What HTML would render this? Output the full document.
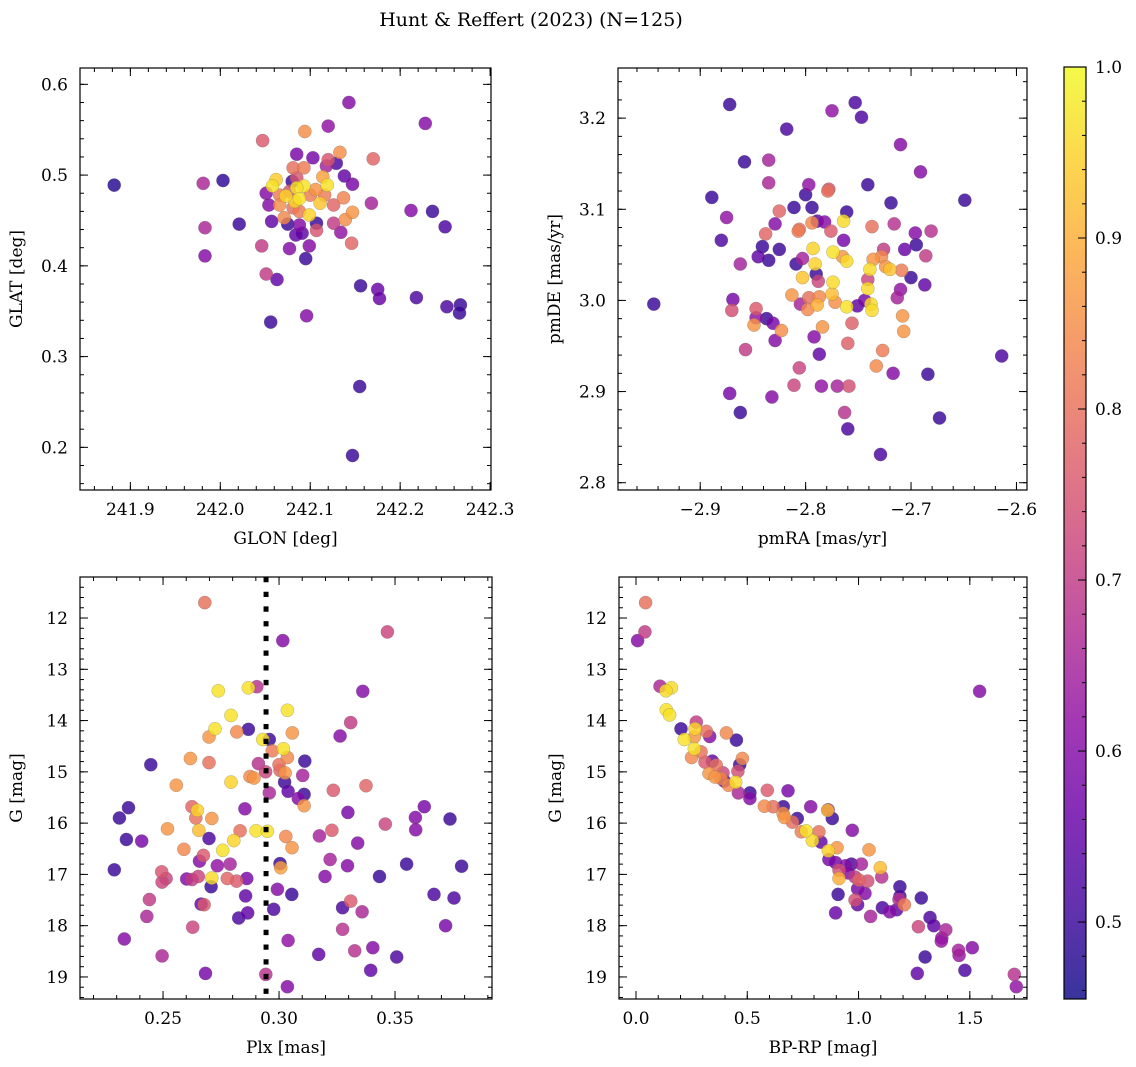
<!DOCTYPE html>
<html><head><meta charset="utf-8"><title>Hunt & Reffert (2023)</title>
<style>
html,body{margin:0;padding:0;background:#fff;}
svg{display:block;font-family:"DejaVu Serif","Liberation Serif",serif;}
</style></head>
<body>
<svg id="fig" width="1136" height="1067" viewBox="0 0 1136 1067" xmlns="http://www.w3.org/2000/svg">
<defs>
<linearGradient id="plasmaGrad" x1="0" y1="1" x2="0" y2="0"></linearGradient>
</defs>
<text x="531" y="26" font-size="19" text-anchor="middle">Hunt &amp; Reffert (2023) (N=125)</text>
</svg>
<script>
// ---------- data ----------
const p1X=[241.882,241.981,242.003,241.983,241.983,242.021,242.047,242.094,242.120,242.143,242.228,242.085,242.103,242.120,242.133,242.129,242.170,242.118,242.138,242.147,242.168,242.212,242.236,242.250,242.046,242.077,242.099,242.095,242.051,242.063,242.156,242.175,242.177,242.218,242.252,242.267,242.266,242.096,242.056,242.155,242.147,242.062,242.058,242.051,242.054,242.057,242.071,242.075,242.084,242.088,242.091,242.107,242.107,242.126,242.134,242.146,242.139,242.147,242.126,242.137,242.111,242.099,242.119,242.114,242.106,242.093,242.085,242.088,242.083,242.073,242.081,242.093,242.080,242.066,242.081,242.088,242.077,242.100,242.116,242.066,242.085];
const p1Y=[0.489,0.491,0.494,0.442,0.411,0.446,0.538,0.548,0.554,0.580,0.557,0.523,0.519,0.517,0.525,0.513,0.518,0.510,0.499,0.490,0.469,0.461,0.460,0.443,0.422,0.419,0.422,0.408,0.391,0.385,0.378,0.374,0.364,0.365,0.355,0.357,0.348,0.345,0.338,0.267,0.191,0.495,0.488,0.480,0.467,0.449,0.453,0.446,0.434,0.445,0.436,0.447,0.439,0.447,0.437,0.425,0.451,0.459,0.467,0.475,0.469,0.456,0.489,0.498,0.484,0.488,0.486,0.474,0.471,0.477,0.508,0.508,0.493,0.467,0.464,0.460,0.482,0.478,0.478,0.478,0.497];
const p1C=[0.48,0.66,0.49,0.66,0.60,0.50,0.76,0.85,0.62,0.60,0.60,0.58,0.58,0.75,0.85,0.52,0.78,0.65,0.55,0.58,0.65,0.60,0.50,0.52,0.70,0.60,0.60,0.50,0.70,0.55,0.50,0.56,0.56,0.52,0.52,0.50,0.50,0.60,0.50,0.50,0.50,0.94,0.97,0.60,0.60,0.55,0.84,0.50,0.55,0.60,0.55,0.50,0.75,0.70,0.62,0.78,0.85,0.86,0.78,0.83,0.93,0.95,0.97,0.88,0.86,0.97,0.97,0.97,0.95,0.95,0.80,0.82,0.50,0.85,0.80,0.82,0.75,0.82,0.82,0.82,0.75];

const p2X=[-2.872,-2.753,-2.775,-2.747,-2.818,-2.710,-2.858,-2.835,-2.691,-2.835,-2.797,-2.778,-2.779,-2.741,-2.889,-2.800,-2.649,-2.719,-2.811,-2.794,-2.761,-2.825,-2.875,-2.829,-2.789,-2.782,-2.764,-2.794,-2.806,-2.807,-2.776,-2.737,-2.716,-2.696,-2.681,-2.838,-2.880,-2.764,-2.695,-2.841,-2.825,-2.793,-2.774,-2.765,-2.761,-2.726,-2.706,-2.686,-2.845,-2.862,-2.835,-2.809,-2.803,-2.791,-2.736,-2.728,-2.724,-2.720,-2.709,-2.700,-2.790,-2.803,-2.788,-2.741,-2.739,-2.774,-2.741,-2.710,-2.713,-2.687,-2.775,-2.813,-2.797,-2.787,-2.772,-2.805,-2.789,-2.798,-2.761,-2.751,-2.744,-2.738,-2.737,-2.944,-2.869,-2.870,-2.847,-2.847,-2.837,-2.831,-2.849,-2.823,-2.829,-2.784,-2.756,-2.708,-2.707,-2.792,-2.760,-2.857,-2.787,-2.727,-2.733,-2.806,-2.717,-2.684,-2.614,-2.811,-2.785,-2.770,-2.759,-2.872,-2.832,-2.862,-2.763,-2.673,-2.760,-2.729];
const p2Y=[3.215,3.217,3.208,3.201,3.188,3.171,3.152,3.154,3.141,3.129,3.127,3.122,3.120,3.127,3.113,3.116,3.110,3.107,3.102,3.102,3.097,3.098,3.091,3.084,3.087,3.086,3.087,3.085,3.078,3.076,3.076,3.081,3.084,3.074,3.076,3.073,3.066,3.066,3.061,3.059,3.056,3.057,3.053,3.048,3.043,3.056,3.056,3.049,3.048,3.040,3.044,3.040,3.046,3.040,3.045,3.048,3.037,3.034,3.033,3.025,3.029,3.025,3.021,3.023,3.034,3.020,3.013,3.012,3.003,3.017,3.007,3.006,3.003,3.004,2.998,2.996,2.995,2.990,2.993,2.994,3.000,2.996,2.989,2.996,3.001,2.989,2.991,2.981,2.980,2.975,2.973,2.967,2.956,2.971,2.975,2.983,2.966,2.960,2.953,2.946,2.941,2.945,2.928,2.926,2.920,2.919,2.939,2.907,2.906,2.906,2.906,2.898,2.894,2.877,2.877,2.871,2.859,2.831];
const p2C=[0.50,0.52,0.62,0.52,0.52,0.60,0.50,0.65,0.60,0.66,0.62,0.75,0.80,0.50,0.50,0.50,0.50,0.50,0.50,0.50,0.50,0.78,0.62,0.60,0.55,0.60,0.96,0.84,0.80,0.82,0.76,0.80,0.68,0.60,0.68,0.78,0.52,0.58,0.50,0.50,0.50,0.95,0.97,0.86,0.96,0.70,0.56,0.70,0.55,0.65,0.50,0.50,0.65,0.95,0.86,0.84,0.86,0.93,0.82,0.50,0.50,0.93,0.72,0.72,0.96,0.96,0.96,0.62,0.65,0.55,0.92,0.86,0.80,0.84,0.85,0.65,0.90,0.84,0.97,0.55,0.58,0.96,0.96,0.50,0.58,0.74,0.76,0.62,0.50,0.58,0.86,0.85,0.60,0.86,0.77,0.86,0.86,0.60,0.77,0.70,0.55,0.82,0.84,0.72,0.60,0.50,0.52,0.72,0.62,0.65,0.74,0.58,0.60,0.50,0.68,0.50,0.52,0.52];

const p3X=[0.268,0.3467,0.3016,0.3361,0.2738,0.2868,0.2904,0.3036,0.2793,0.2724,0.2818,0.2868,0.2698,0.3057,0.3309,0.3263,0.2930,0.2958,0.3019,0.2971,0.3036,0.2618,0.2698,0.2447,0.3111,0.2911,0.3000,0.3004,0.2942,0.3026,0.3102,0.2557,0.2793,0.2875,0.2892,0.3024,0.2958,0.3039,0.3108,0.3083,0.3108,0.3234,0.3375,0.2351,0.2312,0.2625,0.2648,0.2641,0.2710,0.2853,0.3297,0.3626,0.3588,0.3737,0.2519,0.2654,0.2832,0.2901,0.2950,0.3458,0.3589,0.3174,0.3228,0.3029,0.2342,0.2408,0.2698,0.2805,0.2590,0.2757,0.3056,0.3339,0.2674,0.2657,0.2734,0.2789,0.3004,0.3007,0.3220,0.3295,0.3550,0.3787,0.2290,0.2494,0.2513,0.2496,0.2602,0.2625,0.2652,0.2710,0.2707,0.2777,0.2817,0.2861,0.3198,0.3433,0.2993,0.3055,0.2856,0.2441,0.2664,0.2677,0.2865,0.2826,0.2977,0.3274,0.3309,0.3358,0.3668,0.3754,0.2430,0.2628,0.3718,0.2333,0.3039,0.3274,0.2496,0.3171,0.3326,0.3404,0.3507,0.2683,0.2943,0.3395,0.3036];
const p3Y=[11.70,12.27,12.44,13.43,13.42,13.36,13.34,13.80,13.90,14.16,14.22,14.17,14.32,14.24,14.04,14.30,14.37,14.37,14.55,14.59,14.72,14.74,14.82,14.86,14.79,14.84,14.86,14.97,15.00,15.02,15.07,15.26,15.20,15.09,15.12,15.20,15.41,15.38,15.44,15.52,15.66,15.36,15.27,15.70,15.90,15.68,15.75,15.90,15.91,15.72,15.79,15.68,15.89,15.92,16.11,16.14,16.15,16.15,16.16,16.02,16.13,16.25,16.14,16.26,16.32,16.35,16.30,16.34,16.51,16.53,16.48,16.39,16.63,16.74,16.83,16.80,16.79,16.87,16.71,16.83,16.80,16.84,16.91,16.95,17.08,17.15,17.09,17.10,17.04,17.07,17.24,17.08,17.13,17.08,17.04,17.04,17.29,17.39,17.42,17.49,17.58,17.59,17.75,17.85,17.68,17.65,17.52,17.73,17.39,17.46,17.82,18.03,18.00,18.26,18.29,18.07,18.59,18.56,18.49,18.43,18.61,18.93,18.95,18.87,19.19];
const p3C=[0.80,0.72,0.60,0.60,0.97,0.97,0.68,0.97,0.97,0.97,0.84,0.50,0.86,0.86,0.70,0.60,0.97,0.50,0.97,0.82,0.84,0.86,0.80,0.50,0.50,0.68,0.80,0.78,0.72,0.86,0.65,0.86,0.95,0.84,0.86,0.50,0.66,0.55,0.50,0.60,0.86,0.76,0.78,0.50,0.50,0.78,0.95,0.80,0.86,0.60,0.58,0.58,0.60,0.50,0.86,0.92,0.80,0.97,0.97,0.72,0.60,0.65,0.76,0.84,0.50,0.58,0.52,0.95,0.84,0.97,0.86,0.60,0.76,0.60,0.62,0.65,0.50,0.88,0.65,0.60,0.50,0.50,0.50,0.75,0.72,0.72,0.60,0.70,0.72,0.96,0.50,0.78,0.76,0.58,0.60,0.50,0.60,0.50,0.55,0.70,0.55,0.76,0.55,0.52,0.52,0.52,0.76,0.66,0.52,0.52,0.66,0.72,0.58,0.60,0.62,0.68,0.66,0.55,0.68,0.60,0.52,0.58,0.68,0.55,0.60];
const plxRef=[0.2944];

const p4X=[0.043,0.040,0.007,1.544,0.108,0.159,0.135,0.136,0.151,0.202,0.271,0.265,0.316,0.331,0.217,0.262,0.406,0.451,0.262,0.292,0.250,0.478,0.466,0.310,0.343,0.361,0.391,0.458,0.328,0.355,0.382,0.397,0.415,0.448,0.460,0.512,0.512,0.590,0.683,0.577,0.616,0.662,0.661,0.667,0.703,0.725,0.785,0.863,0.861,0.882,0.972,0.743,0.765,0.822,0.792,0.831,0.864,0.903,1.047,0.867,0.897,0.942,0.968,1.013,0.912,0.954,0.912,0.984,1.002,1.041,1.098,1.104,0.996,1.029,0.984,0.996,0.908,1.186,1.186,1.182,1.206,1.282,0.897,1.054,1.107,1.140,1.171,1.321,1.338,1.269,1.392,1.374,1.372,1.449,1.452,1.511,1.299,1.264,1.478,1.700,1.709];
const p4Y=[11.70,12.27,12.44,13.43,13.33,13.36,13.42,13.79,13.89,14.16,14.03,14.16,14.21,14.31,14.37,14.32,14.24,14.38,14.55,14.61,14.72,14.74,14.86,14.81,14.79,14.87,15.02,14.99,15.03,15.10,15.13,15.18,15.26,15.20,15.41,15.41,15.52,15.36,15.37,15.67,15.68,15.68,15.81,15.89,15.98,15.91,15.68,15.74,15.75,15.91,16.14,16.17,16.15,16.17,16.34,16.37,16.54,16.48,16.52,16.71,16.77,16.83,16.80,16.80,16.92,16.97,17.08,17.05,17.11,17.13,16.87,17.05,17.28,17.37,17.50,17.59,17.39,17.24,17.43,17.49,17.59,17.46,17.75,17.82,17.65,17.73,17.69,17.84,18.00,18.02,18.08,18.24,18.30,18.48,18.58,18.43,18.61,18.93,18.87,18.95,19.19];
const p4C=[0.80,0.70,0.60,0.60,0.66,0.96,0.96,0.97,0.97,0.50,0.70,0.95,0.80,0.60,0.97,0.86,0.84,0.50,0.97,0.80,0.84,0.84,0.50,0.76,0.55,0.80,0.72,0.74,0.86,0.86,0.84,0.55,0.84,0.96,0.66,0.50,0.60,0.76,0.58,0.84,0.80,0.50,0.85,0.86,0.80,0.50,0.60,0.60,0.92,0.50,0.60,0.82,0.97,0.80,0.96,0.55,0.95,0.86,0.86,0.58,0.58,0.60,0.52,0.65,0.74,0.60,0.90,0.70,0.78,0.74,0.92,0.68,0.58,0.60,0.74,0.55,0.50,0.50,0.52,0.68,0.82,0.50,0.56,0.65,0.52,0.60,0.55,0.52,0.55,0.72,0.66,0.62,0.63,0.65,0.63,0.60,0.50,0.55,0.52,0.68,0.62];

// tick labels
const p1XTicks=[241.9,242.0,242.1,242.2,242.3];
const p1XTickLabels=["241.9","242.0","242.1","242.2","242.3"];
const p1YTicks=[0.2,0.3,0.4,0.5,0.6];
const p1YTickLabels=["0.2","0.3","0.4","0.5","0.6"];
const p2XTicks=[-2.9,-2.8,-2.7,-2.6];
const p2XTickLabels=["\u22122.9","\u22122.8","\u22122.7","\u22122.6"];
const p2YTicks=[2.8,2.9,3.0,3.1,3.2];
const p2YTickLabels=["2.8","2.9","3.0","3.1","3.2"];
const p3XTicks=[0.25,0.30,0.35];
const p3XTickLabels=["0.25","0.30","0.35"];
const magTicks=[12,13,14,15,16,17,18,19];
const magTickLabels=["12","13","14","15","16","17","18","19"];
const p4XTicks=[0.0,0.5,1.0,1.5];
const p4XTickLabels=["0.0","0.5","1.0","1.5"];
const cbTicks=[0.5,0.6,0.7,0.8,0.9,1.0];
const cbTickLabels=["0.5","0.6","0.7","0.8","0.9","1.0"];
const cRange=[0.455,1.0];

// ---------- rendering ----------
const NS='http://www.w3.org/2000/svg';
const svg=document.getElementById('fig');
const FS=17;
function mk(tag,attrs,parent){const e=document.createElementNS(NS,tag);for(const k in attrs)e.setAttribute(k,attrs[k]);(parent||svg).appendChild(e);return e;}

const plasmaStops=[[13,8,135],[65,4,157],[106,0,168],[143,13,164],[177,42,144],[204,71,120],[225,100,98],[242,132,75],[252,166,54],[252,206,37],[240,249,33]];
function plasma(t){t=Math.max(0,Math.min(1,t));const s=t*10;const i=Math.min(9,Math.floor(s));const f=s-i;const a=plasmaStops[i],b=plasmaStops[i+1];
 return 'rgb('+a.map((v,k)=>Math.round(v+(b[k]-v)*f)).join(',')+')';}
function cnorm(c){return (c-cRange[0])/(cRange[1]-cRange[0]);}

const panels=[
 {id:'glon-glat',px0:80,px1:491,py0:68,py1:490,xa:241.844,xb:242.301,yt:0.618,yb:0.153,X:p1X,Y:p1Y,C:p1C,xt:p1XTicks,xl:p1XTickLabels,yt_:p1YTicks,yl:p1YTickLabels,xminor:0.02,yminor:0.02,xlab:'GLON [deg]',ylab:'GLAT [deg]'},
 {id:'pmra-pmde',px0:618,px1:1027,py0:68,py1:490,xa:-2.978,xb:-2.590,yt:3.255,yb:2.792,X:p2X,Y:p2Y,C:p2C,xt:p2XTicks,xl:p2XTickLabels,yt_:p2YTicks,yl:p2YTickLabels,xminor:0.02,yminor:0.02,xlab:'pmRA [mas/yr]',ylab:'pmDE [mas/yr]'},
 {id:'plx-g',px0:80,px1:492,py0:577,py1:999,xa:0.2142,xb:0.3918,yt:11.20,yb:19.43,X:p3X,Y:p3Y,C:p3C,xt:p3XTicks,xl:p3XTickLabels,yt_:magTicks,yl:magTickLabels,xminor:0.01,yminor:0.2,xlab:'Plx [mas]',ylab:'G [mag]'},
 {id:'bprp-g',px0:619,px1:1027,py0:577,py1:999,xa:-0.0764,xb:1.757,yt:11.20,yb:19.43,X:p4X,Y:p4Y,C:p4C,xt:p4XTicks,xl:p4XTickLabels,yt_:magTicks,yl:magTickLabels,xminor:0.1,yminor:0.2,xlab:'BP-RP [mag]',ylab:'G [mag]'}
];

panels.forEach(p=>{
 const sx=v=>p.px0+(v-p.xa)/(p.xb-p.xa)*(p.px1-p.px0);
 const sy=v=>p.py0+(v-p.yt)/(p.yb-p.yt)*(p.py1-p.py0);
 const g=mk('g',{});
 
 
 const clipId='clip-'+p.id;
 const cp=mk('clipPath',{id:clipId},svg.querySelector('defs'));
 mk('rect',{x:p.px0,y:p.py0,width:p.px1-p.px0,height:p.py1-p.py0},cp);
 const pts=mk('g',{'clip-path':'url(#'+clipId+')'},g);
 
 
 const order=p.X.map((_,i)=>i).sort((a,b)=>p.C[a]-p.C[b]);
 order.forEach(i=>{
  const c=mk('circle',{cx:sx(p.X[i]).toFixed(1),cy:sy(p.Y[i]).toFixed(1),r:6.6,fill:plasma(cnorm(p.C[i])),'fill-opacity':0.82,stroke:'#666','stroke-width':0.4,'stroke-opacity':0.6},pts);
  
  
 });
 if(p.id==='plx-g'){
  const ln=mk('line',{x1:sx(plxRef[0]),x2:sx(plxRef[0]),y1:p.py0,y2:p.py1,stroke:'#000','stroke-width':5,'stroke-dasharray':'5.3 9.4'},pts);
  
  
 }
 const frame=mk('rect',{x:p.px0,y:p.py0,width:p.px1-p.px0,height:p.py1-p.py0,fill:'none',stroke:'#000','stroke-width':1.2},g);
 
 
 const tk=mk('g',{stroke:'#000','stroke-width':1},g);
 
 
 const xlo=Math.min(p.xa,p.xb),xhi=Math.max(p.xa,p.xb);
 for(let v=Math.ceil(xlo/p.xminor)*p.xminor;v<=xhi;v+=p.xminor){const X=sx(v);
  mk('line',{x1:X,x2:X,y1:p.py1,y2:p.py1-4},tk);mk('line',{x1:X,x2:X,y1:p.py0,y2:p.py0+4},tk);}
 const ylo=Math.min(p.yt,p.yb),yhi=Math.max(p.yt,p.yb);
 for(let v=Math.ceil(ylo/p.yminor)*p.yminor;v<=yhi;v+=p.yminor){const Y=sy(v);
  mk('line',{x1:p.px0,x2:p.px0+4,y1:Y,y2:Y},tk);mk('line',{x1:p.px1,x2:p.px1-4,y1:Y,y2:Y},tk);}
 p.xt.forEach((v,i)=>{const X=sx(v);
  mk('line',{x1:X,x2:X,y1:p.py1,y2:p.py1-8},tk);mk('line',{x1:X,x2:X,y1:p.py0,y2:p.py0+8},tk);
  const t=mk('text',{x:X,y:p.py1+25,'font-size':FS,'text-anchor':'middle'},g);t.textContent=p.xl[i];
  
  
 });
 p.yt_.forEach((v,i)=>{const Y=sy(v);
  mk('line',{x1:p.px0,x2:p.px0+8,y1:Y,y2:Y},tk);mk('line',{x1:p.px1,x2:p.px1-8,y1:Y,y2:Y},tk);
  const t=mk('text',{x:p.px0-12,y:Y+6,'font-size':FS,'text-anchor':'end'},g);t.textContent=p.yl[i];
  
  
 });
 const xl=mk('text',{x:(p.px0+p.px1)/2,y:p.py1+54,'font-size':FS,'text-anchor':'middle'},g);xl.textContent=p.xlab;
 
 
 const yx=p.px0-58,yy=(p.py0+p.py1)/2;
 const yl=mk('text',{x:yx,y:yy,'font-size':FS,'text-anchor':'middle',transform:'rotate(-90 '+yx+' '+yy+')'},g);yl.textContent=p.ylab;
 
 
});

// colorbar
const grad=document.getElementById('plasmaGrad');
for(let i=0;i<=20;i++){const t=i/20;const v=cRange[0]+t*(cRange[1]-cRange[0]);
 mk('stop',{offset:t,'stop-color':plasma(cnorm(v))},grad);}
const cb={x0:1064,x1:1086,y0:67,y1:999};
const cbs=v=>cb.y1-(v-cRange[0])/(cRange[1]-cRange[0])*(cb.y1-cb.y0);
const cbg=mk('g',{});


mk('rect',{x:cb.x0,y:cb.y0,width:cb.x1-cb.x0,height:cb.y1-cb.y0,fill:'url(#plasmaGrad)','fill-opacity':0.82},cbg);
mk('rect',{x:cb.x0,y:cb.y0,width:cb.x1-cb.x0,height:cb.y1-cb.y0,fill:'none',stroke:'#000','stroke-width':1.2},cbg);
for(let v=0.46;v<=1.0001;v+=0.02){const Y=cbs(v);mk('line',{x1:cb.x1,x2:cb.x1-4,y1:Y,y2:Y,stroke:'#000'},cbg);}
cbTicks.forEach((v,i)=>{const Y=cbs(v);mk('line',{x1:cb.x1,x2:cb.x1-8,y1:Y,y2:Y,stroke:'#000'},cbg);
 const t=mk('text',{x:cb.x1+9,y:Y+6,'font-size':FS},cbg);t.textContent=cbTickLabels[i];
 
 
});
</script>
</body></html>
